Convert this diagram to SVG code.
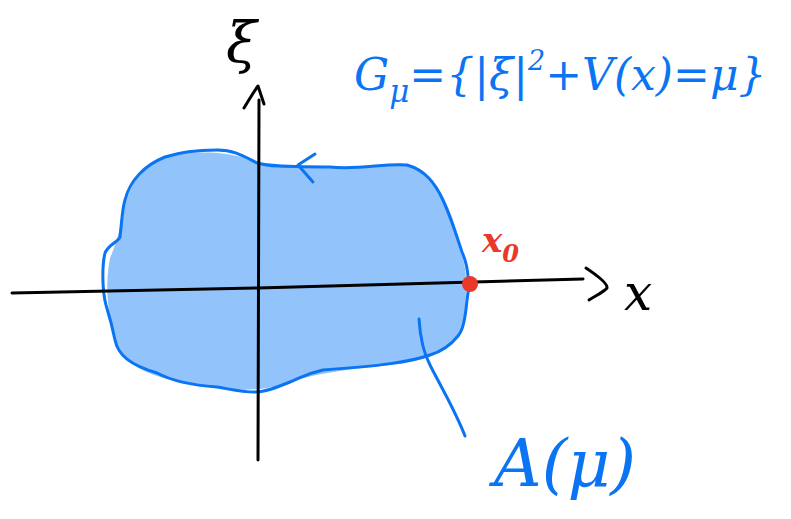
<svg xmlns="http://www.w3.org/2000/svg" width="791" height="519" viewBox="0 0 791 519">
<style>
.ax{fill:none;stroke:#000;stroke-width:3;stroke-linecap:round;stroke-linejoin:round}
.bl{fill:none;stroke:#0a74f2;stroke-width:3;stroke-linecap:round;stroke-linejoin:round}
.tb{fill:#0a74f2;font-family:"DejaVu Serif","Liberation Serif",serif;font-style:italic}
</style>
<rect width="791" height="519" fill="#fff"/>
<g id="region">
<path d="M258,163 C275,168 300,166 330,167 C360,170 385,162 410,166 C440,180 455,215 460,250 C470,275 466,300 462,330 C450,352 425,360 400,364 C360,368 320,372 290,382 C270,390 240,392 215,387 C180,382 140,378 120,352 C108,320 104,290 110,258 C118,240 122,220 125,205 C135,170 155,158 180,154 C205,151 235,152 258,163 Z" fill="#93c3fb"/>
<path class="bl" d="M257,163 C275,168 300,166 330,167 C360,170 385,163 407,165 C425,170 435,183 443,200 C452,220 458,240 462,252 C470,270 469,290 467,300 C465,320 463,330 458,336 C450,346 440,352 430,355 C410,362 380,366 323,370 C305,374 300,378 290,382 C275,388 265,392 255,392 C240,392 230,389 217,387 C190,385 170,380 157,373 C130,365 118,355 115,340 C112,325 110,318 106,305 C102,290 102,265 105,253 C108,245 118,242 120,237 C122,220 122,210 125,200 C130,180 145,165 165,157 C180,152 200,150 217,150 C235,150 245,157 257,163"/>
<path class="bl" d="M315,154 L298,165 L313,182"/>
</g>
<g id="axes">
<path class="ax" d="M12,293 L258,288 L583,279"/>
<path class="ax" d="M586,268 C598,276 608,284 607,288 C604,292 595,296 589,300"/>
<path class="ax" d="M258,460 L259,100"/>
<path class="ax" d="M244,108 C250,98 255,90 258,86 C260,92 262,98 264,104"/>
</g>
<g id="connectors">
<path class="bl" d="M419,319 C420,335 422,350 430,365 C440,385 455,410 465,436"/>
</g>
<g id="x0">
<circle cx="470" cy="284" r="8" fill="#e8392a"/>
<text x="482" y="252" font-family="DejaVu Serif,serif" font-style="italic" font-weight="bold" font-size="34" fill="#e8392a">x<tspan font-size="24" dy="10">0</tspan></text>
</g>
<text x="624" y="310" font-family="DejaVu Serif,serif" font-style="italic" font-size="50" fill="#000">x</text>
<text x="226" y="62" font-family="DejaVu Serif,serif" font-style="italic" font-size="56" fill="#000">ξ</text>
<text class="tb" x="354" y="90" font-size="44">G<tspan font-size="31" dy="12">μ</tspan><tspan dy="-12">={|ξ|</tspan><tspan font-size="27" dy="-20">2</tspan><tspan dy="20">+V(x)=μ}</tspan></text>
<text class="tb" x="494" y="486" font-size="66">A(μ)</text>
</svg>
